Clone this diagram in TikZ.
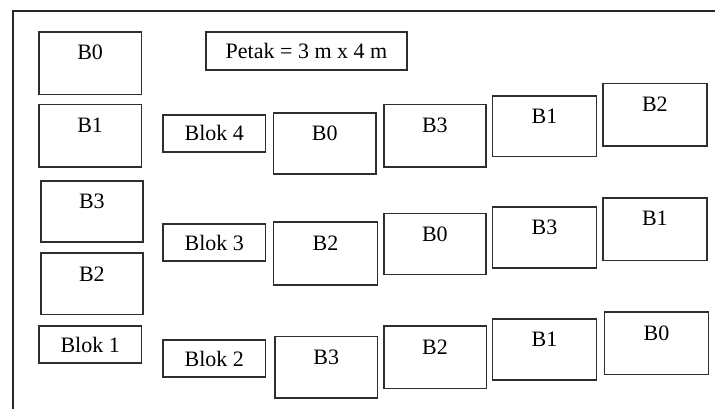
\documentclass[tikz,border=0pt]{standalone}
\usepackage{fontspec}
\setmainfont{Liberation Serif}
\begin{document}
\begin{tikzpicture}[x=1pt,y=-1pt,
  plotrect/.style={draw=black!82,line width=1.6pt,inner sep=0pt,outer sep=0pt,rectangle},
  plotlabel/.style={anchor=base,inner sep=0pt,font=\fontsize{22}{26}\selectfont},
  framestyle/.style={draw=black!85,line width=1.6pt}]
\useasboundingbox (0,0) rectangle (715,409);
% a plot: name, left, top, right, bottom, label set near the top
\newcommand{\plotbox}[6]{%
  \node[plotrect,minimum width={(#4-#2)*1pt},minimum height={(#5-#3)*1pt}] (#1) at ({(#2+#4)/2},{(#3+#5)/2}) {};
  \node[plotlabel] (#1-t) at ([yshift=-28pt]#1.north) {#6};}
% a box whose text sits in its middle
\newcommand{\namebox}[6]{%
  \node[plotrect,minimum width={(#4-#2)*1pt},minimum height={(#5-#3)*1pt}] (#1) at ({(#2+#4)/2},{(#3+#5)/2}) {};
  \node[plotlabel] (#1-t) at ([yshift=-7.5pt]#1.center) {#6};}

% outer frame (open to the right and below)
\coordinate (fbl) at (12.9,412);
\coordinate (ftl) at (12.9,10.9);
\coordinate (ftr) at (718,10.9);
\draw[framestyle] (fbl) -- (ftl) -- (ftr);

% block 1 (left column)
\plotbox{lb0}{39}{32}{141.3}{94.6}{B0}
\plotbox{lb1}{39}{104.7}{141.3}{167.3}{B1}
\plotbox{lb3}{40.7}{180.7}{143}{242}{B3}
\plotbox{lb2}{40.7}{253}{143}{314.6}{B2}
\namebox{blok1}{39}{326}{141.3}{363}{Blok 1}

% plot size
\namebox{petak}{206}{32}{407}{70.3}{Petak = 3 m x 4 m}

% block names
\namebox{blok4}{163}{115}{265.6}{152}{Blok 4}
\namebox{blok3}{163}{224}{265.6}{261}{Blok 3}
\namebox{blok2}{163}{340}{265.6}{377}{Blok 2}

% block 4
\plotbox{r4a}{273.4}{113}{376}{174}{B0}
\plotbox{r4b}{383.7}{104.4}{486}{167.3}{B3}
\plotbox{r4c}{492.4}{96}{596.6}{156.6}{B1}
\plotbox{r4d}{602.7}{83.7}{707}{146.3}{B2}

% block 3
\plotbox{r3a}{273.4}{222}{377.6}{285}{B2}
\plotbox{r3b}{383.7}{213.4}{486}{274.6}{B0}
\plotbox{r3c}{492.4}{206.7}{596.6}{268}{B3}
\plotbox{r3d}{602.7}{197.7}{707}{260.6}{B1}

% block 2
\plotbox{r2a}{275}{336.4}{377.6}{398}{B3}
\plotbox{r2b}{383.7}{326}{486.3}{388.6}{B2}
\plotbox{r2c}{492.4}{318.7}{596.6}{380}{B1}
\plotbox{r2d}{604.4}{312}{708.6}{374.6}{B0}
\end{tikzpicture}
\end{document}
